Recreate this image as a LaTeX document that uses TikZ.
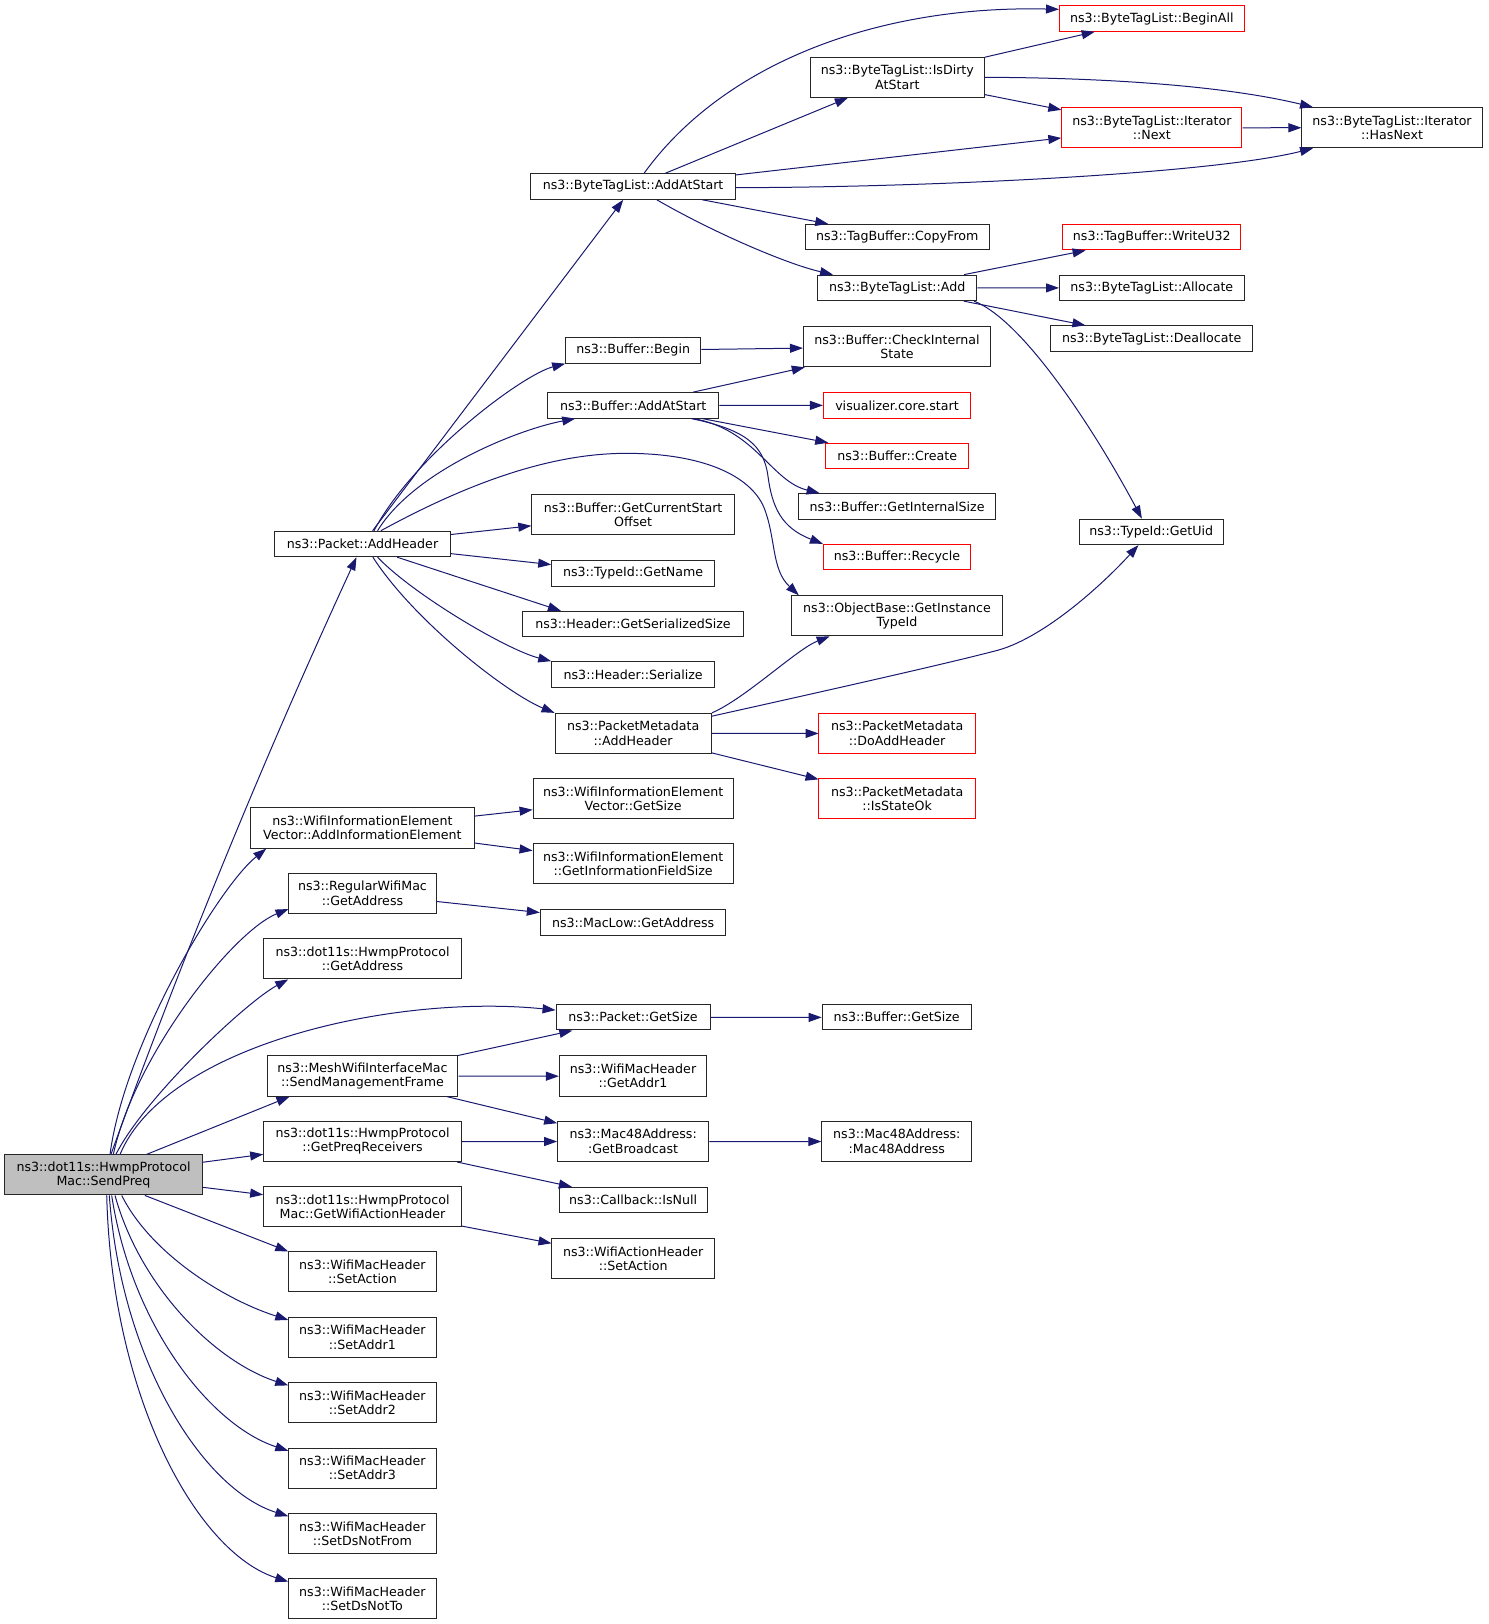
\documentclass[tikz,border=0pt]{standalone}
\usepackage{fontspec}
\newfontfamily\dvs{DejaVu Sans}
\usetikzlibrary{arrows.meta,calc}
\definecolor{edgec}{HTML}{191970}
\definecolor{fillg}{HTML}{BFBFBF}
\definecolor{redb}{HTML}{FF0000}
\begin{document}
\begin{tikzpicture}[x=1pt,y=-1pt,scale=1.035,
  every node/.style={transform shape},
  box/.style={draw=black!85, line width=1pt, inner sep=0pt, align=center,
    font=\dvs\fontsize{12.2pt}{13.8pt}\selectfont, text=black},
  one/.style={box, minimum height=24.6pt},
  two/.style={box, minimum height=38.7pt},
  redbox/.style={draw=redb},
  hl/.style={fill=fillg},
  edge/.style={draw=edgec, line width=1pt, -{Triangle[length=13pt,width=9pt]}}]
\useasboundingbox[fill=white] (0,0) rectangle (1437.7,1569.1);

% column 1
\node[two,hl,minimum width=191pt] (S) at (100,1135) {ns3::dot11s::HwmpProtocol\\Mac::SendPreq};
% column 2
\node[one,minimum width=170pt] (paddh) at (350.25,525.5) {ns3::Packet::AddHeader};
\node[two,minimum width=215.8pt] (aie) at (350.1,800) {ns3::WifiInformationElement\\Vector::AddInformationElement};
\node[two,minimum width=142.1pt] (rwm) at (350.25,863.1) {ns3::RegularWifiMac\\::GetAddress};
\node[two,minimum width=191pt] (hga) at (350.25,926.3) {ns3::dot11s::HwmpProtocol\\::GetAddress};
\node[two,minimum width=184.5pt] (smf) at (350.25,1039.6) {ns3::MeshWifiInterfaceMac\\::SendManagementFrame};
\node[two,minimum width=191pt] (gpr) at (350.25,1102.7) {ns3::dot11s::HwmpProtocol\\::GetPreqReceivers};
\node[two,minimum width=191pt] (gwah) at (350.25,1165.9) {ns3::dot11s::HwmpProtocol\\Mac::GetWifiActionHeader};
\node[two,minimum width=142.3pt] (sact) at (350.15,1228.8) {ns3::WifiMacHeader\\::SetAction};
\node[two,minimum width=142.3pt] (sa1) at (350.15,1292) {ns3::WifiMacHeader\\::SetAddr1};
\node[two,minimum width=142.3pt] (sa2) at (350.15,1355.2) {ns3::WifiMacHeader\\::SetAddr2};
\node[two,minimum width=142.3pt] (sa3) at (350.15,1418.4) {ns3::WifiMacHeader\\::SetAddr3};
\node[two,minimum width=142.3pt] (sdnf) at (350.15,1481.6) {ns3::WifiMacHeader\\::SetDsNotFrom};
\node[two,minimum width=142.3pt] (sdnt) at (350.15,1544.8) {ns3::WifiMacHeader\\::SetDsNotTo};
% column 3
\node[one,minimum width=197.4pt] (batstart) at (611.7,180.2) {ns3::ByteTagList::AddAtStart};
\node[one,minimum width=130.5pt] (bbegin) at (611.75,338.5) {ns3::Buffer::Begin};
\node[one,minimum width=165.2pt] (baddstart) at (611.8,391.6) {ns3::Buffer::AddAtStart};
\node[two,minimum width=196pt] (gcso) at (611.75,497.3) {ns3::Buffer::GetCurrentStart\\Offset};
\node[one,minimum width=157.5pt] (gname) at (611.75,554) {ns3::TypeId::GetName};
\node[one,minimum width=213.2pt] (gss) at (611.6,602.9) {ns3::Header::GetSerializedSize};
\node[one,minimum width=157.5pt] (hser) at (611.75,651.5) {ns3::Header::Serialize};
\node[two,minimum width=151pt] (pmadd) at (611.75,708.5) {ns3::PacketMetadata\\::AddHeader};
\node[two,minimum width=193.5pt] (wievgs) at (611.75,771.7) {ns3::WifiInformationElement\\Vector::GetSize};
\node[two,minimum width=193.5pt] (gifs) at (611.75,834.5) {ns3::WifiInformationElement\\::GetInformationFieldSize};
\node[one,minimum width=179.4pt] (mlga) at (611.7,891.2) {ns3::MacLow::GetAddress};
\node[one,minimum width=148.8pt] (pgs) at (611.6,982.8) {ns3::Packet::GetSize};
\node[two,minimum width=142.4pt] (ga1) at (611.6,1039.6) {ns3::WifiMacHeader\\::GetAddr1};
\node[two,minimum width=146pt] (gbc) at (611.75,1102.7) {ns3::Mac48Address:\\:GetBroadcast};
\node[one,minimum width=143.3pt] (isnull) at (611.75,1159.3) {ns3::Callback::IsNull};
\node[two,minimum width=156.9pt] (wahsa) at (611.75,1216.2) {ns3::WifiActionHeader\\::SetAction};
% column 4
\node[two,minimum width=168pt] (isdirty) at (867,74.7) {ns3::ByteTagList::IsDirty\\AtStart};
\node[one,minimum width=178pt] (copyfrom) at (866.9,229.1) {ns3::TagBuffer::CopyFrom};
\node[one,minimum width=153.7pt] (btladd) at (866.9,278.1) {ns3::ByteTagList::Add};
\node[two,minimum width=181pt] (cis) at (866.7,335) {ns3::Buffer::CheckInternal\\State};
\node[one,redbox,minimum width=142.4pt] (viz) at (866.7,391.6) {visualizer.core.start};
\node[one,redbox,minimum width=138.3pt] (create) at (866.9,440.5) {ns3::Buffer::Create};
\node[one,minimum width=191pt] (gis) at (866.8,489.2) {ns3::Buffer::GetInternalSize};
\node[one,redbox,minimum width=142.4pt] (recycle) at (866.7,538.2) {ns3::Buffer::Recycle};
\node[two,minimum width=203pt] (gitid) at (866.7,594.9) {ns3::ObjectBase::GetInstance\\TypeId};
\node[two,redbox,minimum width=151pt] (doadd) at (866.8,708.5) {ns3::PacketMetadata\\::DoAddHeader};
\node[two,redbox,minimum width=151pt] (isok) at (866.8,771.7) {ns3::PacketMetadata\\::IsStateOk};
\node[one,minimum width=144pt] (bgs) at (866.3,982.8) {ns3::Buffer::GetSize};
\node[two,minimum width=145pt] (mac48) at (866.5,1102.7) {ns3::Mac48Address:\\:Mac48Address};
% column 5
\node[one,redbox,minimum width=178.7pt] (beginall) at (1112.9,17.9) {ns3::ByteTagList::BeginAll};
\node[two,redbox,minimum width=174.2pt] (next) at (1112.9,123.4) {ns3::ByteTagList::Iterator\\::Next};
\node[one,redbox,minimum width=171.7pt] (writeu32) at (1112.9,229.1) {ns3::TagBuffer::WriteU32};
\node[one,minimum width=178.7pt] (allocate) at (1112.9,278.1) {ns3::ByteTagList::Allocate};
\node[one,minimum width=195pt] (dealloc) at (1112.75,327.1) {ns3::ByteTagList::Deallocate};
\node[one,minimum width=139pt] (getuid) at (1112.3,513.8) {ns3::TypeId::GetUid};
% column 6
\node[two,minimum width=174.5pt] (hasnext) at (1345,123.4) {ns3::ByteTagList::Iterator\\::HasNext};

% edges from SendPreq
\draw[edge] (S) .. controls (177,922.7) and (255.6,731) .. (paddh);
\draw[edge] ($(S.north)+(6.3,0)$) .. controls (120,1010) and (211,857) .. ($(aie.south west)+(15.5,0)$);
\draw[edge] ($(S.north)+(9.5,0)$) .. controls (130,1020) and (225,900) .. ($(rwm.south west)+(0,-4.8)$);
\draw[edge] ($(S.north)+(12,0)$) .. controls (140,1060) and (238,968) .. ($(hga.south west)+(24.2,0)$);
\draw[edge] ($(S.north)+(16,0)$) .. controls (160,1010) and (380,960) .. ($(pgs.west)+(0,-7)$);
\draw[edge] ($(S.north)+(41.7,0)$) -- ($(smf.south west)+(22.2,0)$);
\draw[edge] (S) -- (gpr);
\draw[edge] (S) -- (gwah);
\draw[edge] ($(S.south)+(40,0)$) -- (sact.north west);
\draw[edge] ($(S.south)+(17.6,0)$) .. controls (145,1210) and (215,1255) .. ($(sa1.north west)+(0,3)$);
\draw[edge] ($(S.south)+(11.1,0)$) .. controls (136,1245) and (209,1316) .. ($(sa2.north west)+(0,3)$);
\draw[edge] ($(S.south)+(7.9,0)$) .. controls (127,1280) and (203,1377) .. ($(sa3.north west)+(0,3)$);
\draw[edge] ($(S.south)+(5.6,0)$) .. controls (117,1315) and (196,1439) .. ($(sdnf.north west)+(0,3)$);
\draw[edge] ($(S.south)+(3.1,0)$) .. controls (108,1350) and (190,1500) .. ($(sdnt.north west)+(0,3)$);

% edges from Packet::AddHeader
\draw[edge] (paddh) -- (batstart);
\draw[edge] ($(paddh.north)+(11,0)$) .. controls (400,440) and (505,362) .. (bbegin.south west);
\draw[edge] ($(paddh.north)+(14.5,0)$) .. controls (400,455) and (500,415) .. ($(baddstart.south west)+(27,0)$);
\draw[edge] ($(paddh.north)+(17.7,0)$) .. controls (450,468) and (530,438) .. (605,438)
   .. controls (680,438) and (725,460) .. (738,490)
   .. controls (750,520) and (745,550) .. ($(gitid.north west)+(7,0)$);
\draw[edge] (paddh) -- (gcso);
\draw[edge] (paddh) -- (gname);
\draw[edge] ($(paddh.south)+(33.5,0)$) -- ($(gss.north west)+(37.4,0)$);
\draw[edge] ($(paddh.south)+(14.5,0)$) .. controls (400,575) and (490,628) .. (hser.north west);
\draw[edge] ($(paddh.south)+(10,0)$) .. controls (400,600) and (490,670) .. (pmadd.north west);

% edges from ByteTagList::AddAtStart
\draw[edge] ($(batstart.north)+(10.5,0)$) .. controls (700,60) and (850,5) .. ($(beginall.west)+(0,-8.9)$);
\draw[edge] (batstart) -- (isdirty);
\draw[edge] (batstart) -- (next);
\draw[edge] ($(batstart.east)+(0,1.1)$) .. controls (900,181) and (1170,168) .. ($(hasnext.south west)+(11.2,0)$);
\draw[edge] (batstart) -- (copyfrom);
\draw[edge] ($(batstart.south)+(22.8,0)$) .. controls (690,225) and (760,255) .. ($(btladd.north west)+(15.2,0)$);

% IsDirtyAtStart, Next
\draw[edge] (isdirty) -- (beginall);
\draw[edge] (isdirty.east) .. controls (1060,75) and (1180,82) .. ($(hasnext.north west)+(11.2,0)$);
\draw[edge] (isdirty) -- (next);
\draw[edge] (next) -- (hasnext);

% ByteTagList::Add
\draw[edge] (btladd) -- (writeu32);
\draw[edge] (btladd) -- (allocate);
\draw[edge] (btladd) -- (dealloc);
\draw[edge] ($(btladd.south east)+(-3.3,0)$) .. controls (990,310) and (1060,420) .. ($(getuid.north)+(-9.2,0)$);

% Buffer
\draw[edge] (bbegin) -- (cis);
\draw[edge] (baddstart) -- (cis);
\draw[edge] (baddstart) -- (viz);
\draw[edge] (baddstart) -- (create);
\draw[edge] ($(baddstart.south)+(58,0)$) .. controls (730,415) and (745,465) .. ($(gis.north west)+(21,0)$);
\draw[edge] ($(baddstart.south)+(56,0)$) .. controls (720,415) and (738,430) .. (742,460)
   .. controls (746,490) and (755,510) .. (recycle.north west);

% PacketMetadata::AddHeader
\draw[edge] (pmadd.north east) .. controls (720,675) and (770,627) .. ($(gitid.south west)+(36.8,0)$);
\draw[edge] ($(pmadd.north east)+(0,3.2)$) .. controls (800,667) and (920,640) .. (965,628)
   .. controls (1010,615) and (1065,565) .. ($(getuid.south)+(-12.5,0)$);
\draw[edge] (pmadd) -- (doadd);
\draw[edge] (pmadd) -- (isok);

% others
\draw[edge] (aie) -- (wievgs);
\draw[edge] (aie) -- (gifs);
\draw[edge] (rwm) -- (mlga);
\draw[edge] (pgs) -- (bgs);
\draw[edge] (smf) -- (pgs);
\draw[edge] (smf) -- (ga1);
\draw[edge] (smf) -- (gbc);
\draw[edge] (gpr) -- (gbc);
\draw[edge] (gpr) -- (isnull);
\draw[edge] (gwah) -- (wahsa);
\draw[edge] (gbc) -- (mac48);
\end{tikzpicture}
\end{document}
